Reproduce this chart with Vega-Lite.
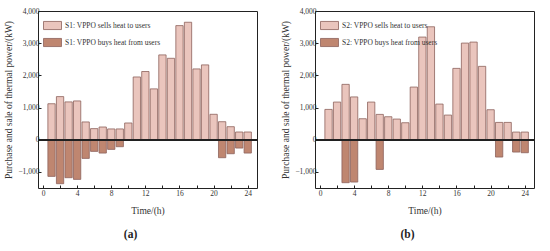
{
  "$schema": "https://vega.github.io/schema/vega-lite/v6.json",
  "padding": {"left": 3, "top": 6, "right": 5, "bottom": 0},
  "background": "white",
  "datasets": {
    "a": [
      {"h": 1, "t": "S1: VPPO sells heat to users", "v": 1118},
      {"h": 2, "t": "S1: VPPO sells heat to users", "v": 1340},
      {"h": 3, "t": "S1: VPPO sells heat to users", "v": 1175},
      {"h": 4, "t": "S1: VPPO sells heat to users", "v": 1205},
      {"h": 5, "t": "S1: VPPO sells heat to users", "v": 552},
      {"h": 6, "t": "S1: VPPO sells heat to users", "v": 345},
      {"h": 7, "t": "S1: VPPO sells heat to users", "v": 395},
      {"h": 8, "t": "S1: VPPO sells heat to users", "v": 335},
      {"h": 9, "t": "S1: VPPO sells heat to users", "v": 335},
      {"h": 10, "t": "S1: VPPO sells heat to users", "v": 520},
      {"h": 11, "t": "S1: VPPO sells heat to users", "v": 1950},
      {"h": 12, "t": "S1: VPPO sells heat to users", "v": 2120},
      {"h": 13, "t": "S1: VPPO sells heat to users", "v": 1580},
      {"h": 14, "t": "S1: VPPO sells heat to users", "v": 2636},
      {"h": 15, "t": "S1: VPPO sells heat to users", "v": 2530},
      {"h": 16, "t": "S1: VPPO sells heat to users", "v": 3546},
      {"h": 17, "t": "S1: VPPO sells heat to users", "v": 3650},
      {"h": 18, "t": "S1: VPPO sells heat to users", "v": 2200},
      {"h": 19, "t": "S1: VPPO sells heat to users", "v": 2325},
      {"h": 20, "t": "S1: VPPO sells heat to users", "v": 790},
      {"h": 21, "t": "S1: VPPO sells heat to users", "v": 560},
      {"h": 22, "t": "S1: VPPO sells heat to users", "v": 405},
      {"h": 23, "t": "S1: VPPO sells heat to users", "v": 240},
      {"h": 24, "t": "S1: VPPO sells heat to users", "v": 240},
      {"h": 1, "t": "S1: VPPO buys heat from users", "v": -1139},
      {"h": 2, "t": "S1: VPPO buys heat from users", "v": -1366},
      {"h": 3, "t": "S1: VPPO buys heat from users", "v": -1180},
      {"h": 4, "t": "S1: VPPO buys heat from users", "v": -1232},
      {"h": 5, "t": "S1: VPPO buys heat from users", "v": -580},
      {"h": 6, "t": "S1: VPPO buys heat from users", "v": -362},
      {"h": 7, "t": "S1: VPPO buys heat from users", "v": -414},
      {"h": 8, "t": "S1: VPPO buys heat from users", "v": -300},
      {"h": 9, "t": "S1: VPPO buys heat from users", "v": -217},
      {"h": 21, "t": "S1: VPPO buys heat from users", "v": -559},
      {"h": 22, "t": "S1: VPPO buys heat from users", "v": -435},
      {"h": 23, "t": "S1: VPPO buys heat from users", "v": -259},
      {"h": 24, "t": "S1: VPPO buys heat from users", "v": -414}
    ],
    "b": [
      {"h": 1, "t": "S2: VPPO sells heat to users", "v": 942},
      {"h": 2, "t": "S2: VPPO sells heat to users", "v": 1170},
      {"h": 3, "t": "S2: VPPO sells heat to users", "v": 1720},
      {"h": 4, "t": "S2: VPPO sells heat to users", "v": 1330},
      {"h": 5, "t": "S2: VPPO sells heat to users", "v": 652},
      {"h": 6, "t": "S2: VPPO sells heat to users", "v": 1170},
      {"h": 7, "t": "S2: VPPO sells heat to users", "v": 787},
      {"h": 8, "t": "S2: VPPO sells heat to users", "v": 714},
      {"h": 9, "t": "S2: VPPO sells heat to users", "v": 642},
      {"h": 10, "t": "S2: VPPO sells heat to users", "v": 528},
      {"h": 11, "t": "S2: VPPO sells heat to users", "v": 1636},
      {"h": 12, "t": "S2: VPPO sells heat to users", "v": 3190},
      {"h": 13, "t": "S2: VPPO sells heat to users", "v": 3510},
      {"h": 14, "t": "S2: VPPO sells heat to users", "v": 1108},
      {"h": 15, "t": "S2: VPPO sells heat to users", "v": 766},
      {"h": 16, "t": "S2: VPPO sells heat to users", "v": 2217},
      {"h": 17, "t": "S2: VPPO sells heat to users", "v": 3003},
      {"h": 18, "t": "S2: VPPO sells heat to users", "v": 3034},
      {"h": 19, "t": "S2: VPPO sells heat to users", "v": 2280},
      {"h": 20, "t": "S2: VPPO sells heat to users", "v": 932},
      {"h": 21, "t": "S2: VPPO sells heat to users", "v": 538},
      {"h": 22, "t": "S2: VPPO sells heat to users", "v": 538},
      {"h": 23, "t": "S2: VPPO sells heat to users", "v": 238},
      {"h": 24, "t": "S2: VPPO sells heat to users", "v": 238},
      {"h": 3, "t": "S2: VPPO buys heat from users", "v": -1335},
      {"h": 4, "t": "S2: VPPO buys heat from users", "v": -1315},
      {"h": 7, "t": "S2: VPPO buys heat from users", "v": -922},
      {"h": 21, "t": "S2: VPPO buys heat from users", "v": -538},
      {"h": 23, "t": "S2: VPPO buys heat from users", "v": -383},
      {"h": 24, "t": "S2: VPPO buys heat from users", "v": -404}
    ]
  },
  "config": {
    "font": "Liberation Serif",
    "view": {"stroke": "#222222", "strokeWidth": 1},
    "axis": {
      "labelFont": "Liberation Serif", "labelFontSize": 7.5, "labelColor": "#333333", "labelOverlap": false,
      "titleFont": "Liberation Serif", "titleFontSize": 9.5, "titleFontWeight": "normal", "titleColor": "#333333",
      "grid": false, "domain": false, "ticks": true, "tickColor": "#222222"
    },
    "legend": {
      "labelFont": "Liberation Serif", "labelFontSize": 7.5, "labelColor": "#333333",
      "symbolType": "M-1,-0.45H1V0.45H-1Z", "symbolSize": 324, "symbolStrokeColor": "#8d625c", "symbolStrokeWidth": 0.8,
      "rowPadding": 1, "labelOffset": 3, "padding": 0, "offset": 5, "orient": "top-left", "title": null
    },
    "title": {"font": "Liberation Serif", "fontSize": 11.5, "fontWeight": "bold", "color": "#222222"}
  },
  "resolve": {"scale": {"color": "independent"}, "legend": {"color": "independent"}},
  "spacing": 22,
  "hconcat": [
    {
      "width": 219, "height": 177,
      "data": {"name": "a"},
      "title": {"text": "(a)", "orient": "bottom", "dx": -17, "offset": 14},
      "layer": [
        {
          "mark": {"type": "bar", "width": 7.3, "stroke": "#8d625c", "strokeWidth": 0.8},
          "encoding": {
            "x": {"field": "h", "type": "quantitative", "scale": {"domain": [0, 24.5], "nice": false, "zero": false},
              "axis": {"values": [0, 2, 4, 6, 8, 10, 12, 14, 16, 18, 20, 22, 24], "labelExpr": "datum.value % 4 == 0 ? datum.label : ''", "title": "Time/(h)", "titlePadding": 9, "labelPadding": 4, "tickSize": -3}},
            "y": {"field": "v", "type": "quantitative", "stack": null, "scale": {"domain": [-1500, 4000], "nice": false},
              "axis": {"tickSize": -3, "title": "Purchase and sale of thermal power/(kW)", "titlePadding": 4}},
            "color": {"field": "t", "type": "nominal",
              "scale": {"domain": ["S1: VPPO sells heat to users", "S1: VPPO buys heat from users"], "range": ["#eac5bd", "#bf8670"]}}
          }
        },
        {"mark": {"type": "rule", "color": "#222222", "strokeWidth": 1}, "encoding": {"y": {"datum": 0}}}
      ]
    },
    {
      "width": 219, "height": 177,
      "data": {"name": "b"},
      "title": {"text": "(b)", "orient": "bottom", "dx": -17, "offset": 14},
      "layer": [
        {
          "mark": {"type": "bar", "width": 7.3, "stroke": "#8d625c", "strokeWidth": 0.8},
          "encoding": {
            "x": {"field": "h", "type": "quantitative", "scale": {"domain": [0, 24.5], "nice": false, "zero": false},
              "axis": {"values": [0, 2, 4, 6, 8, 10, 12, 14, 16, 18, 20, 22, 24], "labelExpr": "datum.value % 4 == 0 ? datum.label : ''", "title": "Time/(h)", "titlePadding": 9, "labelPadding": 4, "tickSize": -3}},
            "y": {"field": "v", "type": "quantitative", "stack": null, "scale": {"domain": [-1500, 4000], "nice": false},
              "axis": {"tickSize": -3, "title": "Purchase and sale of thermal power/(kW)", "titlePadding": 4}},
            "color": {"field": "t", "type": "nominal",
              "scale": {"domain": ["S2: VPPO sells heat to users", "S2: VPPO buys heat from users"], "range": ["#eac5bd", "#bf8670"]}}
          }
        },
        {"mark": {"type": "rule", "color": "#222222", "strokeWidth": 1}, "encoding": {"y": {"datum": 0}}}
      ]
    }
  ]
}
